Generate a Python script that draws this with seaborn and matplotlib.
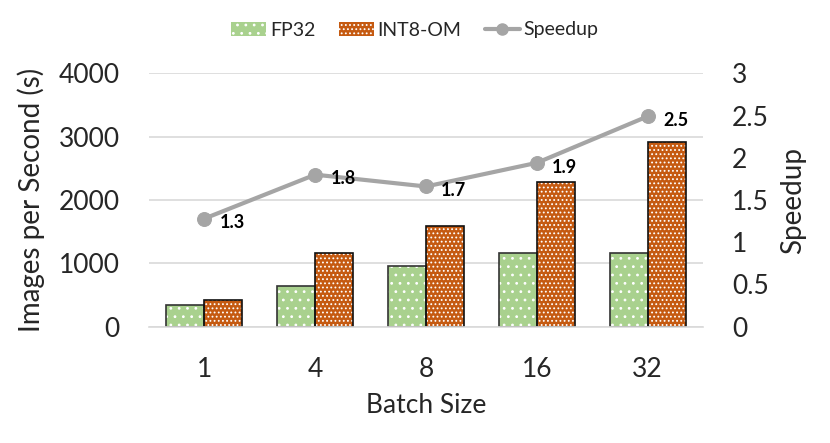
import numpy as np
import pandas as pd
import matplotlib
matplotlib.use("Agg")
import matplotlib.pyplot as plt
import seaborn as sns
from matplotlib.patches import Patch
from matplotlib.lines import Line2D

batch_sizes = ["1", "4", "8", "16", "32"]
fp32 = [337, 648, 964, 1170, 1170]
int8_om = [427, 1165, 1597, 2277, 2909]
speedup = [1.28, 1.80, 1.66, 1.94, 2.49]
series_names = ["FP32", "INT8-OM"]

sns.set_theme(style="white")
plt.rcParams['font.family'] = ['Lato', 'DejaVu Sans']
plt.rcParams['hatch.linewidth'] = 0.8

df = pd.DataFrame({
    "Batch Size": batch_sizes * 2,
    "value": fp32 + int8_om,
    "series": [series_names[0]] * 5 + [series_names[1]] * 5,
})

green = "#a9d18e"
orange = "#c55a11"
gray = "#a5a5a5"

fig = plt.figure(figsize=(8.3, 4.43), dpi=100)
ax = fig.add_axes([149/830, 1-326.7/443, (703-149)/830, (326.7-73.3)/443])

sns.barplot(data=df, x="Batch Size", y="value", hue="series", order=batch_sizes,
            hue_order=series_names, palette=[green, orange], width=0.686,
            edgecolor="white", linewidth=0, ax=ax, legend=False, saturation=1)
for i, cont in enumerate(ax.containers):
    for p in cont:
        p.set_hatch(".." if i == 0 else "....")
        p.set_edgecolor("white")
        p.set_linewidth(0)
sns.barplot(data=df, x="Batch Size", y="value", hue="series", order=batch_sizes,
            hue_order=series_names, fill=False, width=0.686,
            palette=["#333333", "#111111"], linewidth=1.2, ax=ax, legend=False)

ax.set_ylim(0, 4000)
ax.set_yticks([0, 1000, 2000, 3000, 4000])
ax.yaxis.grid(True, color="#d9d9d9", linewidth=1.2)
ax.set_axisbelow(True)
for s in ax.spines.values():
    s.set_visible(False)
ax.spines['bottom'].set_visible(True)
ax.spines['bottom'].set_color("#d9d9d9")
ax.spines['bottom'].set_linewidth(1.2)
ax.tick_params(axis='y', length=0, pad=21, labelsize=19)
ax.tick_params(axis='x', length=0, pad=22, labelsize=19)
ax.set_xlabel("Batch Size", fontsize=19, labelpad=8)
ax.set_ylabel("Images per Second (s)", fontsize=20, labelpad=10)

ax2 = ax.twinx()
sns.lineplot(x=np.arange(len(batch_sizes)), y=speedup, ax=ax2, color=gray,
             linewidth=3, marker="o", markersize=10, markeredgecolor=gray)
ax2.set_ylim(0, 3)
ax2.set_yticks([0, 0.5, 1, 1.5, 2, 2.5, 3])
ax2.set_yticklabels(["0", "0.5", "1", "1.5", "2", "2.5", "3"])
for s in ax2.spines.values():
    s.set_visible(False)
ax2.tick_params(axis='y', length=0, pad=21, labelsize=19)
ax2.set_ylabel("Speedup", fontsize=20, labelpad=8)
for i, v in enumerate(speedup):
    ax2.annotate(f"{v:.1f}", (i, v), xytext=(11, -3), textcoords="offset points",
                 ha="left", va="center", fontsize=13, fontweight="bold", color="black")
ax.set_xlim(-0.5, 4.5)

handles = [Patch(facecolor=green, hatch="..", edgecolor="white", linewidth=0),
           Patch(facecolor=orange, hatch="....", edgecolor="white", linewidth=0),
           Line2D([0], [0], color=gray, linewidth=3, marker="o", markersize=8)]
fig.legend(handles, ["FP32", "INT8-OM", "Speedup"], loc="center", bbox_to_anchor=(0.5, 1-30/443),
           ncol=3, frameon=False, fontsize=14, handlelength=1.8, handletextpad=0.2,
           columnspacing=1.2)

fig.savefig("out.png", dpi=100)
